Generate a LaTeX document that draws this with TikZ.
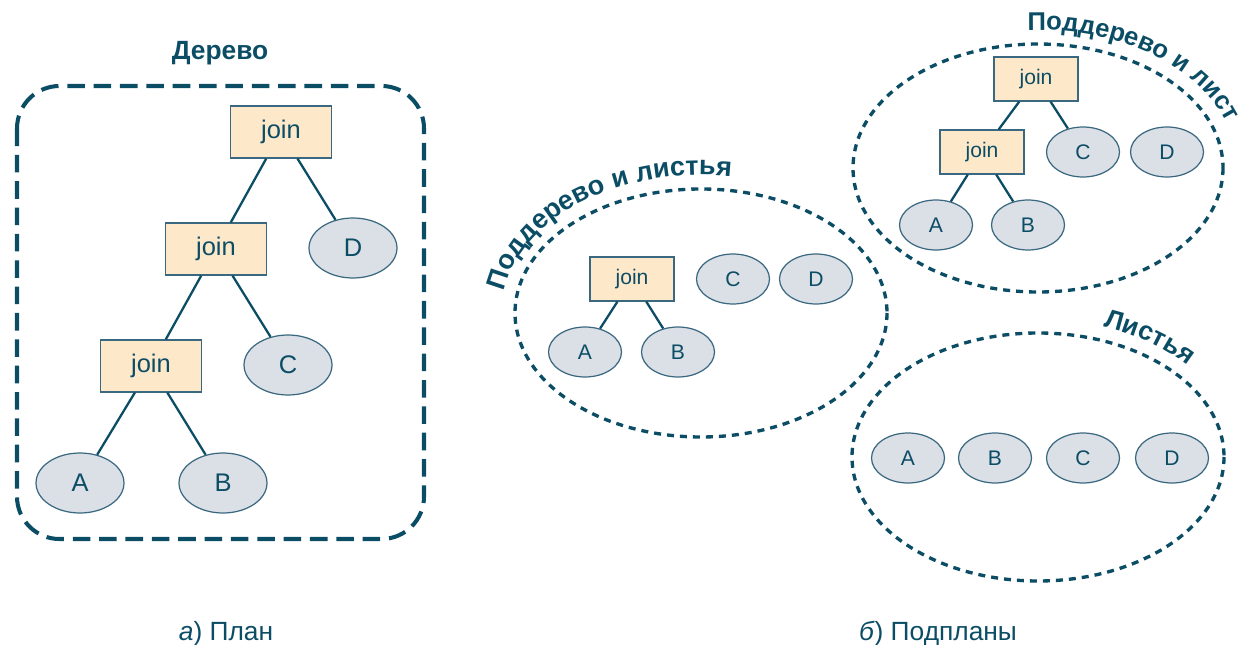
\documentclass[tikz,border=0pt]{standalone}
\usepackage{fontspec}
\setmainfont{Liberation Sans}
\usetikzlibrary{shapes.geometric,decorations.text}
\definecolor{ink}{RGB}{12,77,102}
\definecolor{rim}{RGB}{58,104,128}
\definecolor{boxfill}{RGB}{254,232,202}
\definecolor{leaffill}{RGB}{219,223,230}

\begin{document}
\begin{tikzpicture}[x=0.02cm,y=-0.02cm,
  opbig/.style={draw=rim, fill=boxfill, line width=0.7pt, inner sep=0pt,
    minimum width=2.02cm, minimum height=1.04cm, text=ink,
    font=\fontsize{14.5}{16}\selectfont},
  leafbig/.style={ellipse, draw=rim, fill=leaffill, line width=0.7pt, inner sep=0pt,
    minimum width=1.76cm, minimum height=1.2cm, text=ink,
    font=\fontsize{14.5}{16}\selectfont},
  opsmall/.style={draw=rim, fill=boxfill, line width=0.7pt, inner sep=0pt,
    minimum width=1.68cm, minimum height=0.88cm, text=ink,
    font=\fontsize{12}{14}\selectfont},
  leafsmall/.style={ellipse, draw=rim, fill=leaffill, line width=0.7pt, inner sep=0pt,
    minimum width=1.46cm, minimum height=1.0cm, text=ink,
    font=\fontsize{12}{14}\selectfont},
  link/.style={draw=ink, line width=1.3pt},
  group/.style={draw=ink, line width=1.9pt, dash pattern=on 4pt off 3.4pt},
  frame/.style={draw=ink, line width=2.3pt, dash pattern=on 10pt off 5pt, rounded corners=0.85cm},
  heading/.style={text=ink, font=\fontsize{15}{18}\selectfont\bfseries},
  caption/.style={text=ink, font=\fontsize{15}{18}\selectfont, anchor=base},
]
\useasboundingbox (0,0) rectangle (1244,645);

% ---------- plan: the whole tree ----------
\node[heading, anchor=base] (treetitle) at (220,60) {Дерево};
\draw[frame] (17,86) rectangle (424,539);

\node[opbig] (j1) at (281,132) {join};
\node[opbig] (j2) at (216,249) {join};
\node[opbig] (j3) at (151,366) {join};
\node[leafbig] (d) at (353,248) {D};
\node[leafbig] (c) at (288,365) {C};
\node[leafbig] (a) at (80,483) {A};
\node[leafbig] (b) at (223,483) {B};
\draw[link] (j1) -- (j2);
\draw[link] (j1) -- (d);
\draw[link] (j2) -- (j3);
\draw[link] (j2) -- (c);
\draw[link] (j3) -- (a);
\draw[link] (j3) -- (b);

% ---------- subplan: subtree and leaves ----------
\draw[group] (701,313) ellipse [x radius=186, y radius=124];
\path[decorate, decoration={text along path, text align=left,
    text={|\fontsize{15.4}{18}\selectfont\bfseries\color{ink}|Поддерево и листья}}]
  (701,313) ++(-171:200 and 138) arc[start angle=-171, end angle=-70, x radius=200, y radius=138];
\node[opsmall] (mj) at (632,279) {join};
\node[leafsmall] (mc) at (733,279) {C};
\node[leafsmall] (md) at (816,279) {D};
\node[leafsmall] (ma) at (585,352) {A};
\node[leafsmall] (mb) at (678,352) {B};
\draw[link] (mj) -- (ma);
\draw[link] (mj) -- (mb);

% ---------- subplan: larger subtree and a leaf ----------
\draw[group] (1038,168) ellipse [x radius=185, y radius=124];
\path[decorate, decoration={text along path, text align=left,
    text={|\fontsize{14.6}{18}\selectfont\bfseries\color{ink}|Поддерево и лист}}]
  (1038,168) ++(-93:200 and 138) arc[start angle=-93, end angle=0, x radius=200, y radius=138];
\node[opsmall] (rj1) at (1036,79) {join};
\node[opsmall] (rj2) at (982,152) {join};
\node[leafsmall] (rc) at (1083,152) {C};
\node[leafsmall] (rd) at (1167,152) {D};
\node[leafsmall] (ra) at (936,225) {A};
\node[leafsmall] (rb) at (1028,225) {B};
\draw[link] (rj1) -- (rj2);
\draw[link] (rj1) -- (rc);
\draw[link] (rj2) -- (ra);
\draw[link] (rj2) -- (rb);

% ---------- subplan: leaves only ----------
\draw[group] (1038,457) ellipse [x radius=186, y radius=124];
\path[decorate, decoration={text along path, text align=left,
    text={|\fontsize{15}{18}\selectfont\bfseries\color{ink}|Листья}}]
  (1038,457) ++(-71:200 and 138) arc[start angle=-71, end angle=-10, x radius=200, y radius=138];
\node[leafsmall] (la) at (908,458) {A};
\node[leafsmall] (lb) at (995,458) {B};
\node[leafsmall] (lc) at (1083,458) {C};
\node[leafsmall] (ld) at (1172,458) {D};

% ---------- captions ----------
\node[caption] (capa) at (226,640) {\textit{а}) План};
\node[caption] (capb) at (938,640) {\textit{б}) Подпланы};
\end{tikzpicture}
\end{document}
